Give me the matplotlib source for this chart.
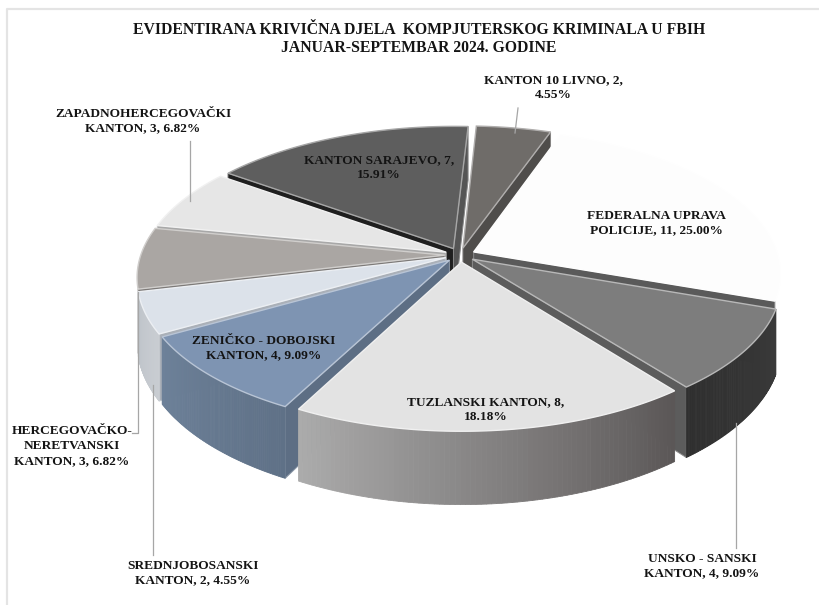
import numpy as np
import matplotlib
matplotlib.use("Agg")
import matplotlib.pyplot as plt
from matplotlib.patches import Polygon

# podaci
names = ["KANTON 10 LIVNO", "FEDERALNA UPRAVA\nPOLICIJE", "UNSKO - SANSKI\nKANTON",
         "TUZLANSKI KANTON", "ZENIČKO - DOBOJSKI\nKANTON", "SREDNJOBOSANSKI\nKANTON",
         "HERCEGOVAČKO-\nNERETVANSKI\nKANTON", "ZAPADNOHERCEGOVAČKI\nKANTON", "KANTON SARAJEVO"]
values = [2, 11, 4, 8, 4, 2, 3, 3, 7]
percents = [4.55, 25.00, 9.09, 18.18, 9.09, 4.55, 6.82, 6.82, 15.91]
title = "EVIDENTIRANA KRIVIČNA DJELA  KOMPJUTERSKOG KRIMINALA U FBIH\nJANUAR-SEPTEMBAR 2024. GODINE"

top_colors = ["#6f6c69", "#fdfdfd", "#7d7d7d", "#e3e3e3", "#7e94b2", "#dce2ea", "#aaa6a3", "#e6e6e6", "#5e5e5e"]
wall_left = ["#55524f", "#d0d0d0", "#2f2f2f", "#ababab", "#6d8199", "#bfc4ca", "#8d8986", "#bdbdbd", "#3c3c3c"]
wall_right = ["#55524f", "#d0d0d0", "#3a3a3a", "#5b5757", "#5f7187", "#c9cdd2", "#8d8986", "#bdbdbd", "#3c3c3c"]
# zidovi uz rez: pocetni i krajnji rub kriske
cut_start = ["#4f4d4b", "#5a5a5a", "#5c5c5c", "#777777", "#5d6e84", "#aab0b8", "#7d7a78", "#a8a8a8", "#1f1f1f"]
cut_end = ["#4f4d4b", "#5a5a5a", "#5c5c5c", "#777777", "#5d6e84", "#aab0b8", "#7d7a78", "#a8a8a8", "#555555"]
has_wall = [False, False, True, True, True, True, False, False, False]

# geometrija pite
cx, cy = 460, 255
a, b = 304, 142
persp = 0.147
depth = 62
explode = 0.05
start = 3


def project(u, v, z=0):
    s = 1 / (1 + persp * v)
    return cx + a * u * s, cy - b * v * s + z * depth * s


def wedge(t0, t1):
    mid = np.radians((t0 + t1) / 2)
    ou, ov = explode * np.sin(mid), explode * np.cos(mid)
    t = np.radians(np.linspace(t0, t1, 80))
    return ou, ov, ou + np.sin(t), ov + np.cos(t)


def mix(c1, c2, f):
    c1 = np.array(matplotlib.colors.to_rgb(c1))
    c2 = np.array(matplotlib.colors.to_rgb(c2))
    return tuple(c1 * (1 - f) + c2 * f)


fig = plt.figure(figsize=(8.19, 6.05), dpi=100)
ax = fig.add_axes([0, 0, 1, 1])
ax.set_xlim(0, 819)
ax.set_ylim(605, 0)
ax.axis("off")
# okvir grafikona, vidi se samo lijevo i gore
ax.plot([7, 7, 819], [605, 9, 9], color="#e4e4e4", lw=1.6)

angles = start + np.cumsum([0] + values) / sum(values) * 360
slices = []
for i in range(len(values)):
    slices.append((i, angles[i], angles[i + 1]))
# od zadnjih prema prednjim
slices.sort(key=lambda s: np.cos(np.radians((s[1] + s[2]) / 2)), reverse=True)

for i, t0, t1 in slices:
    ou, ov, us, vs = wedge(t0, t1)
    # radijalni zidovi, samo oni okrenuti prema gledatelju
    if np.sin(np.radians(t0)) < 0:
        pts = [project(ou, ov), project(us[0], vs[0]), project(us[0], vs[0], 1), project(ou, ov, 1)]
        ax.add_patch(Polygon(pts, closed=True, fc=cut_start[i], ec=mix(cut_start[i], "white", 0.3), lw=0.7))
    if np.sin(np.radians(t1)) > 0:
        pts = [project(ou, ov), project(us[-1], vs[-1]), project(us[-1], vs[-1], 1), project(ou, ov, 1)]
        ax.add_patch(Polygon(pts, closed=True, fc=cut_end[i], ec=mix(cut_end[i], "white", 0.3), lw=0.7))
    # vanjski zid
    if has_wall[i]:
        for k in range(len(us) - 1):
            if vs[k] > 0.03 + ov and vs[k + 1] > 0.03 + ov:
                continue
            col = mix(wall_left[i], wall_right[i], 1 - k / (len(us) - 2))
            pts = [project(us[k], vs[k]), project(us[k + 1], vs[k + 1]),
                   project(us[k + 1], vs[k + 1], 1), project(us[k], vs[k], 1)]
            ax.add_patch(Polygon(pts, closed=True, fc=col, ec=col, lw=0.6))
    # gornja ploha
    top = [project(ou, ov)] + [project(u, v) for u, v in zip(us, vs)]
    ax.add_patch(Polygon(top, closed=True, fc=top_colors[i], ec=mix(top_colors[i], "white", 0.45), lw=1.0))

# linije do natpisa
leaders = [[(518, 108), (515, 133)], [(190, 141), (190, 201)], [(132, 433), (138, 433), (138, 292)],
           [(153, 555), (153, 385)], [(736, 423), (736, 548)]]
for line in leaders:
    xs, ys = zip(*line)
    ax.plot(xs, ys, color="#a6a6a6", lw=0.9, zorder=5)

label_font = dict(family="Liberation Serif", fontweight="bold", fontsize=9.6, color="#141414",
                  ha="center", va="center", linespacing=1.32, zorder=6)


def label(i):
    return names[i] + ", %d, %.2f%%" % (values[i], percents[i])


ax.text(553, 88, "KANTON 10 LIVNO, %d,\n%.2f%%" % (values[0], percents[0]), **label_font)
ax.text(656, 223, label(1), **label_font)
ax.text(702, 566, label(2), **label_font)
ax.text(486, 410, "TUZLANSKI KANTON, %d,\n%.2f%%" % (values[3], percents[3]), **label_font)
ax.text(264, 348, label(4), **label_font)
ax.text(193, 573, label(5), **label_font)
ax.text(72, 446, label(6), **label_font)
ax.text(143, 121, label(7), **label_font)
ax.text(379, 168, "KANTON SARAJEVO, %d,\n%.2f%%" % (values[8], percents[8]), **label_font)

ax.text(419, 39, title, family="Liberation Serif", fontweight="bold", fontsize=11.3, color="#141414",
        ha="center", va="center", linespacing=1.18)

fig.savefig("out.png", dpi=100)
